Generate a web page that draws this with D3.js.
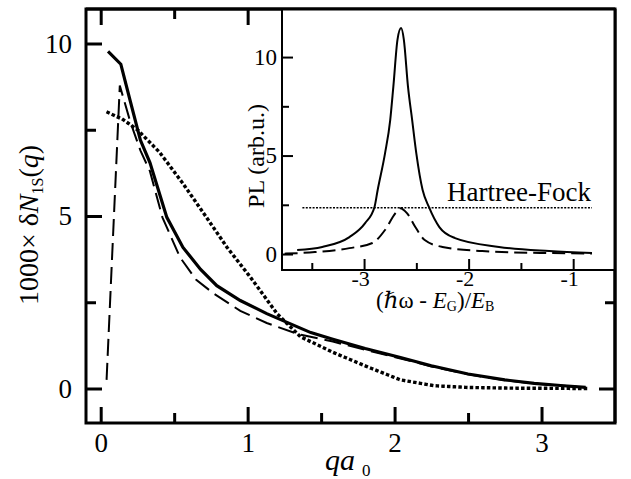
<!doctype html>
<html>
<head>
<meta charset="utf-8">
<style>
body { margin:0; background:#fff; }
svg text { font-family: "Liberation Serif", "DejaVu Serif", serif; }
</style>
<script src="https://d3js.org/d3.v7.min.js"></script>
</head>
<body>
<script>

// main panel: 1000 x dN_1S(q) vs q a0
var qSolid  = [0.05, 0.137, 0.2, 0.27, 0.335, 0.45, 0.56, 0.68, 0.79, 0.95, 1.13, 1.43, 1.58, 1.8, 2.04, 2.25, 2.5, 2.75, 2.95, 3.15, 3.3];
var nSolid  = [9.77, 9.4, 8.35, 7.2, 6.55, 4.96, 4.09, 3.45, 2.98, 2.55, 2.17, 1.62, 1.43, 1.16, 0.9, 0.66, 0.42, 0.25, 0.15, 0.08, 0.03];
var qDashed = [0.04, 0.13, 0.2, 0.27, 0.335, 0.42, 0.54, 0.65, 0.77, 0.95, 1.13, 1.34, 1.58, 1.8, 2.04, 2.25, 2.5, 2.75, 2.95, 3.15, 3.3];
var nDashed = [0.25, 8.78, 7.75, 6.9, 6.3, 4.96, 3.8, 3.15, 2.75, 2.25, 1.9, 1.58, 1.36, 1.12, 0.87, 0.64, 0.41, 0.24, 0.14, 0.08, 0.03];
var qDotted = [0.05, 0.15, 0.25, 0.4, 0.56, 0.72, 0.86, 1.02, 1.2, 1.36, 1.58, 1.82, 2.04, 2.27, 2.5, 2.8, 3.3];
var nDotted = [8.0, 7.8, 7.5, 6.85, 5.94, 4.96, 4.09, 3.22, 2.17, 1.5, 1.05, 0.62, 0.25, 0.08, 0.03, 0.01, 0.0];

var mainXTicks = [0, 1, 2, 3];
var mainXMinor = [0.5, 1.5, 2.5];
var mainYTicks = [0, 5, 10];
var mainYMinor = [2.5, 7.5];

// inset: PL spectrum vs (hw - EG)/EB
var eSolid  = [-3.64, -3.40, -3.14, -2.99, -2.90, -2.87, -2.80, -2.75, -2.72, -2.68, -2.646, -2.62, -2.58, -2.54, -2.50, -2.44, -2.38, -2.28, -2.13, -1.71, -1.23, -0.82];
var plSolid = [0.2, 0.36, 0.86, 1.57, 2.39, 3.25, 5.1, 6.8, 8.5, 10.9, 11.47, 10.9, 8.5, 6.8, 5.1, 3.25, 2.39, 1.37, 0.81, 0.36, 0.15, 0.05];
var eDashed  = [-3.76, -3.47, -3.14, -2.92, -2.80, -2.70, -2.655, -2.59, -2.51, -2.42, -2.25, -1.87, -1.23, -0.82];
var plDashed = [0.02, 0.1, 0.3, 0.56, 1.22, 2.08, 2.33, 2.08, 1.37, 0.71, 0.36, 0.15, 0.05, 0.03];
var eHF  = [-3.59, -0.82];
var plHF = [2.35, 2.35];

var insetXTicks = [-3, -2, -1];
var insetXMinor = [-3.5, -2.5, -1.5];
var insetYTicks = [0, 5, 10];
var insetYMinor = [2.5, 7.5];

var SERIF = "Liberation Serif, DejaVu Serif, serif";
var W = 631, H = 479;
var svg = d3.select("body").append("svg").attr("width", W).attr("height", H)
   .attr("font-family", SERIF);

var x = d3.scaleLinear().domain([-0.1, 3.5]).range([86, 615]);
var y = d3.scaleLinear().domain([-1, 11]).range([423, 9]);

function pts(a, b) { return a.map(function (d, i) { return [d, b[i]]; }); }

var line = d3.line().x(function (d) { return x(d[0]); }).y(function (d) { return y(d[1]); });

svg.append("path").datum(pts(qDotted, nDotted)).attr("d", line)
   .attr("fill", "none").attr("stroke", "#000").attr("stroke-width", 3.4)
   .attr("stroke-dasharray", "0.1,5.6").attr("stroke-linecap", "square");
svg.append("path").datum(pts(qDashed, nDashed)).attr("d", line)
   .attr("fill", "none").attr("stroke", "#000").attr("stroke-width", 2)
   .attr("stroke-dasharray", "17,7");
svg.append("path").datum(pts(qSolid, nSolid)).attr("d", line)
   .attr("fill", "none").attr("stroke", "#000").attr("stroke-width", 3.2);

function styleAxis(g, w, fs) {
  g.attr("font-family", SERIF);
  g.select(".domain").remove();
  g.selectAll("line").attr("stroke", "#000").attr("stroke-width", w);
  g.selectAll("text").attr("font-size", fs).attr("fill", "#000").attr("font-family", SERIF);
}

// main axes (ticks inward on all sides)
svg.append("g").attr("transform", "translate(0,423)")
   .call(d3.axisBottom(x).tickValues(mainXTicks).tickSize(-16).tickPadding(10).tickFormat(d3.format("d")))
   .call(styleAxis, 3, 27);
svg.append("g").attr("transform", "translate(0,423)")
   .call(d3.axisBottom(x).tickValues(mainXMinor).tickSize(-10).tickFormat(""))
   .call(styleAxis, 3, 27);
svg.append("g").attr("transform", "translate(0,9)")
   .call(d3.axisTop(x).tickValues(mainXTicks).tickSize(-16).tickFormat(""))
   .call(styleAxis, 3, 27);
svg.append("g").attr("transform", "translate(0,9)")
   .call(d3.axisTop(x).tickValues(mainXMinor).tickSize(-10).tickFormat(""))
   .call(styleAxis, 3, 27);
svg.append("g").attr("transform", "translate(86,0)")
   .call(d3.axisLeft(y).tickValues(mainYTicks).tickSize(-16).tickPadding(14).tickFormat(d3.format("d")))
   .call(styleAxis, 3, 27);
svg.append("g").attr("transform", "translate(86,0)")
   .call(d3.axisLeft(y).tickValues(mainYMinor).tickSize(-10).tickFormat(""))
   .call(styleAxis, 3, 27);
svg.append("g").attr("transform", "translate(615,0)")
   .call(d3.axisRight(y).tickValues(mainYTicks).tickSize(-16).tickFormat(""))
   .call(styleAxis, 3, 27);
svg.append("g").attr("transform", "translate(615,0)")
   .call(d3.axisRight(y).tickValues(mainYMinor).tickSize(-10).tickFormat(""))
   .call(styleAxis, 3, 27);

svg.append("rect").attr("x", 86).attr("y", 9).attr("width", 529).attr("height", 414)
   .attr("fill", "none").attr("stroke", "#000").attr("stroke-width", 3);

// main axis titles
var yl = svg.append("text").attr("transform", "translate(38,225) rotate(-90)")
   .attr("text-anchor", "middle").attr("font-size", 28);
yl.append("tspan").text("1000\u00d7 \u03b4");
yl.append("tspan").attr("font-style", "italic").text("N");
yl.append("tspan").attr("font-size", 16).attr("dy", 5).text("1S");
yl.append("tspan").attr("dy", -5).text("(");
yl.append("tspan").attr("font-style", "italic").text("q");
yl.append("tspan").text(")");

var xl = svg.append("text").attr("x", 325).attr("y", 470).attr("font-size", 30);
xl.append("tspan").attr("font-style", "italic").text("qa");
xl.append("tspan").attr("font-size", 17).attr("dx", 7).attr("dy", 6).text("0");

// inset
var ix = d3.scaleLinear().domain([-3.785, -0.6]).range([282, 615]);
var iy = d3.scaleLinear().domain([-0.81, 12.44]).range([270, 9]);
var iline = d3.line().x(function (d) { return ix(d[0]); }).y(function (d) { return iy(d[1]); })
   .curve(d3.curveMonotoneX);

svg.append("rect").attr("x", 282).attr("y", 9).attr("width", 333).attr("height", 261)
   .attr("fill", "#fff");

svg.append("path").datum(pts(eHF, plHF)).attr("d", iline)
   .attr("fill", "none").attr("stroke", "#000").attr("stroke-width", 1.6)
   .attr("stroke-dasharray", "2,1.4");
svg.append("path").datum(pts(eDashed, plDashed)).attr("d", iline)
   .attr("fill", "none").attr("stroke", "#000").attr("stroke-width", 2)
   .attr("stroke-dasharray", "13,6");
svg.append("path").datum(pts(eSolid, plSolid)).attr("d", iline)
   .attr("fill", "none").attr("stroke", "#000").attr("stroke-width", 2);

svg.append("g").attr("transform", "translate(0,270)")
   .call(d3.axisBottom(ix).tickValues(insetXTicks).tickSize(-11).tickPadding(0).tickFormat(d3.format("d")))
   .call(styleAxis, 2, 22)
   .selectAll("text").attr("dx", -4).text(function (d) { return "-" + Math.abs(d); });
svg.append("g").attr("transform", "translate(0,270)")
   .call(d3.axisBottom(ix).tickValues(insetXMinor).tickSize(-7).tickFormat(""))
   .call(styleAxis, 2, 22);
svg.append("g").attr("transform", "translate(282,0)")
   .call(d3.axisLeft(iy).tickValues(insetYTicks).tickSize(-11).tickPadding(5).tickFormat(d3.format("d")))
   .call(styleAxis, 2, 23);
svg.append("g").attr("transform", "translate(282,0)")
   .call(d3.axisLeft(iy).tickValues(insetYMinor).tickSize(-7).tickFormat(""))
   .call(styleAxis, 2, 23);

svg.append("rect").attr("x", 282).attr("y", 9).attr("width", 333).attr("height", 261)
   .attr("fill", "none").attr("stroke", "#000").attr("stroke-width", 2);
svg.append("line").attr("x1", 86).attr("x2", 615).attr("y1", 9).attr("y2", 9)
   .attr("stroke", "#000").attr("stroke-width", 3);
svg.append("line").attr("x1", 615).attr("x2", 615).attr("y1", 9).attr("y2", 423)
   .attr("stroke", "#000").attr("stroke-width", 3);

svg.append("text").attr("x", 591).attr("y", 201).attr("text-anchor", "end")
   .attr("font-size", 27).text("Hartree-Fock");

svg.append("text").attr("transform", "translate(264,156) rotate(-90)")
   .attr("text-anchor", "middle").attr("font-size", 24).text("PL (arb.u.)");

var xi = svg.append("text").attr("x", 376).attr("y", 308).attr("font-size", 23);
xi.append("tspan").text("(\u210f\u03c9 - ");
xi.append("tspan").attr("font-style", "italic").text("E");
xi.append("tspan").attr("font-size", 14).attr("dy", 3).text("G");
xi.append("tspan").attr("dy", -3).text(")/");
xi.append("tspan").attr("font-style", "italic").text("E");
xi.append("tspan").attr("font-size", 14).attr("dy", 3).text("B");

</script>
</body>
</html>
